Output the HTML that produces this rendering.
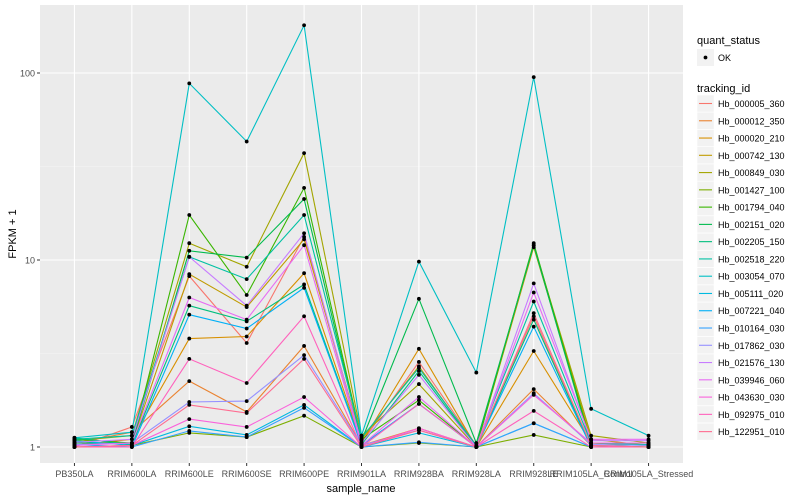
<!DOCTYPE html>
<html><head><meta charset="utf-8"><style>
body{margin:0;background:#fff;}
svg{display:block;font-family:"Liberation Sans",sans-serif;}
</style></head><body>
<svg id="chart" width="800" height="500">
<rect x="40" y="5" width="643" height="458" fill="#ebebeb"/>
<g id="grid"></g><g id="series"></g><g id="axes"></g><g id="legend"></g>
</svg>
<script>
const categories=["PB350LA","RRIM600LA","RRIM600LE","RRIM600SE","RRIM600PE","RRIM901LA","RRIM928BA","RRIM928LA","RRIM928LE","RRIM105LA_Control","RRIM105LA_Stressed"];
const seriesNames=["Hb_000005_360","Hb_000012_350","Hb_000020_210","Hb_000742_130","Hb_000849_030","Hb_001427_100","Hb_001794_040","Hb_002151_020","Hb_002205_150","Hb_002518_220","Hb_003054_070","Hb_005111_020","Hb_007221_040","Hb_010164_030","Hb_017862_030","Hb_021576_130","Hb_039946_060","Hb_043630_030","Hb_092975_010","Hb_122951_010"];
const colors=["#F8766D","#EA8331","#D89000","#C09B00","#A3A500","#7CAE00","#39B600","#00BB4E","#00BF7D","#00C1A3","#00BFC4","#00BAE0","#00B0F6","#35A2FF","#9590FF","#C77CFF","#E76BF3","#FA62DB","#FF62BC","#FF6C91"];
const s0=[1.0,1.28,8.2,3.6,13.3,1.05,2.85,1.02,5.0,1.0,1.0];
const s1=[1.05,1.2,2.25,1.54,3.47,1.02,1.26,1.0,2.04,1.02,1.0];
const s2=[1.02,1.1,3.8,3.9,8.5,1.05,3.35,1.0,3.26,1.05,1.02];
const s3=[1.05,1.05,8.4,5.6,12.9,1.1,2.7,1.0,11.7,1.1,1.02];
const s4=[1.08,1.15,12.3,9.2,37.3,1.15,2.17,1.0,12.0,1.15,1.05];
const s5=[1.0,1.02,1.19,1.13,1.47,1.0,1.05,1.0,1.16,1.0,1.0];
const s6=[1.1,1.05,17.4,6.5,24.3,1.1,1.78,1.0,12.3,1.05,1.02];
const s7=[1.05,1.05,11.2,10.3,21.2,1.08,6.2,1.05,12.0,1.02,1.0];
const s8=[1.12,1.03,5.7,4.7,7.4,1.03,2.55,1.0,4.8,1.0,1.0];
const s9=[1.1,1.15,10.4,7.9,17.4,1.12,2.65,1.02,6.0,1.05,1.03];
const s10=[1.12,1.2,88,43,180,1.15,9.8,2.5,95,1.6,1.15];
const s11=[1.08,1.02,1.29,1.16,1.68,1.0,1.19,1.0,1.34,1.0,1.0];
const s12=[1.03,1.0,5.1,4.3,7.1,1.02,1.70,1.0,4.4,1.0,1.0];
const s13=[1.0,1.0,1.22,1.13,1.62,1.0,1.06,1.0,1.34,1.0,1.0];
const s14=[1.03,1.05,1.74,1.76,3.10,1.02,1.23,1.0,1.94,1.03,1.02];
const s15=[1.06,1.1,10.4,5.7,13.9,1.05,2.43,1.0,7.5,1.08,1.08];
const s16=[1.02,1.05,6.3,4.8,12.0,1.02,1.85,1.0,6.7,1.1,1.1];
const s17=[1.0,1.02,1.41,1.28,1.85,1.0,1.26,1.0,1.9,1.05,1.05];
const s18=[1.0,1.0,2.96,2.2,5.0,1.0,1.70,1.0,1.56,1.0,1.0];
const s19=[1.0,1.02,1.68,1.52,2.96,1.0,1.23,1.0,5.2,1.02,1.0];
const seriesValues=[s0,s1,s2,s3,s4,s5,s6,s7,s8,s9,s10,s11,s12,s13,s14,s15,s16,s17,s18,s19];
const yTicks=[1,10,100];
const yTickLabels=["1","10","100"];

const NS="http://www.w3.org/2000/svg";
function mk(tag,attrs,parent){const e=document.createElementNS(NS,tag);for(const k in attrs)e.setAttribute(k,attrs[k]);parent.appendChild(e);return e;}
const px0=40,pw=643,step=pw/(categories.length-1+1.2);
function xs(i){return px0+0.6*step+i*step;}
function ys(v){return 447-187*Math.log10(v);}

const grid=document.getElementById('grid');
[0.5,1.5].forEach(l=>{const g=mk('line',{x1:40,x2:683,y1:ys(Math.pow(10,l)),y2:ys(Math.pow(10,l)),stroke:'#f5f5f5','stroke-width':0.6},grid);

});
yTicks.forEach(t=>{const g=mk('line',{x1:40,x2:683,y1:ys(t),y2:ys(t),stroke:'#fff','stroke-width':1.1},grid);

});
categories.forEach((c,i)=>{const g=mk('line',{x1:xs(i),x2:xs(i),y1:5,y2:463,stroke:'#fff','stroke-width':1.1},grid);

});

const sg=document.getElementById('series');
seriesValues.forEach((vals,si)=>{
  const pts=vals.map((v,i)=>xs(i).toFixed(1)+','+ys(v).toFixed(1)).join(' ');
  const pl=mk('polyline',{points:pts,fill:'none',stroke:colors[si],'stroke-width':1.1},sg);
  
  
});
seriesValues.forEach((vals,si)=>{
  vals.forEach((v,i)=>{const c=mk('circle',{cx:xs(i),cy:ys(v),r:1.9,fill:'#000'},sg);
  
  });
});

const ax=document.getElementById('axes');
yTicks.forEach((t,i)=>{
  const tk=mk('line',{x1:37,x2:40,y1:ys(t),y2:ys(t),stroke:'#333','stroke-width':1},ax);
  
  
  const tx=mk('text',{x:35,y:ys(t)+3.5,'text-anchor':'end','font-size':9,fill:'#4d4d4d'},ax);
  tx.textContent=yTickLabels[i];
  
  
});
categories.forEach((c,i)=>{
  const tk=mk('line',{x1:xs(i),x2:xs(i),y1:463,y2:466,stroke:'#333','stroke-width':1},ax);
  
  
  const tx=mk('text',{x:xs(i),y:477,'text-anchor':'middle','font-size':9,fill:'#4d4d4d'},ax);
  tx.textContent=c;
  
  
});
const xt=mk('text',{x:361,y:492,'text-anchor':'middle','font-size':11,fill:'#000'},ax);
xt.textContent='sample_name';


const yt=mk('text',{x:0,y:0,'text-anchor':'middle','font-size':11,fill:'#000',transform:'translate(16,234) rotate(-90)'},ax);
yt.textContent='FPKM + 1';



const lg=document.getElementById('legend');
const t1=mk('text',{x:697,y:44,'font-size':11,fill:'#000'},lg);
t1.textContent='quant_status';


const kb=mk('rect',{x:697,y:49,width:17,height:17,fill:'#f2f2f2'},lg);


const kd=mk('circle',{cx:705.5,cy:57.5,r:1.9,fill:'#000'},lg);


const kt=mk('text',{x:718,y:61,'font-size':9,fill:'#000'},lg);
kt.textContent='OK';


const t2=mk('text',{x:697,y:92,'font-size':11,fill:'#000'},lg);
t2.textContent='tracking_id';


seriesNames.forEach((n,i)=>{
  const y=95+i*17.27;
  const r=mk('rect',{x:697,y:y,width:17,height:17,fill:'#f2f2f2',stroke:'#fff','stroke-width':0.5},lg);
  
  
  const l=mk('line',{x1:699,x2:712,y1:y+8.5,y2:y+8.5,stroke:colors[i],'stroke-width':1.1},lg);
  
  
  const t=mk('text',{x:718,y:y+12,'font-size':9,fill:'#000'},lg);
  t.textContent=n;
  
  
});
</script>
</body></html>
